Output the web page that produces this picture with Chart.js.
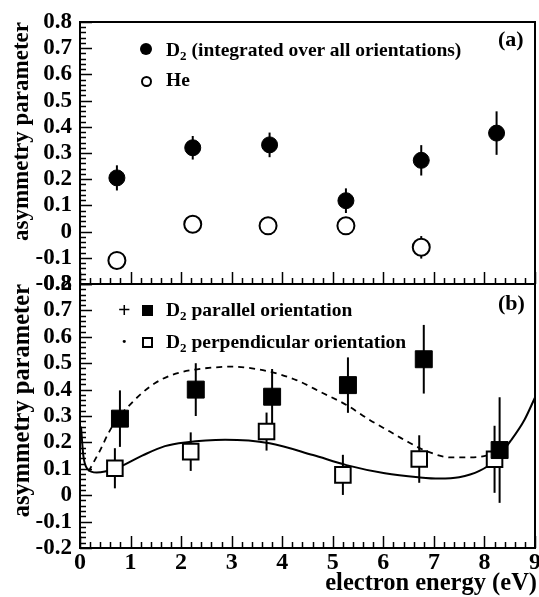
<!DOCTYPE html>
<html>
<head>
<meta charset="utf-8">
<script src="https://cdn.jsdelivr.net/npm/chart.js@4.4.1/dist/chart.umd.min.js"></script>
<style>
  html, body { margin: 0; padding: 0; background: #fff; }
  #wrap { position: relative; width: 539px; height: 597px; overflow: hidden; }
  canvas { position: absolute; left: 0; top: 0; }
  .txt { position: absolute; font-family: "Liberation Serif", "DejaVu Serif", serif; font-weight: bold; color: #000; line-height: 1; white-space: nowrap; }
  .leg { font-size: 19.5px; }
  .leg sub { font-size: 13px; vertical-align: -4px; line-height: 0; }
  .tag { font-size: 22px; }
  .mk { position: absolute; box-sizing: border-box; }
</style>
</head>
<body>
<div id="wrap">
  <canvas id="chartA" width="539" height="597"></canvas>
  <canvas id="chartB" width="539" height="597"></canvas>

  <!-- legend (a) -->
  <div class="mk" style="left:140px;top:43px;width:12px;height:12px;border-radius:50%;background:#000;"></div>
  <div class="txt leg" style="left:166px;top:40.4px;">D<sub>2</sub> (integrated over all orientations)</div>
  <div class="mk" style="left:140.5px;top:76px;width:11px;height:11px;border-radius:50%;border:2px solid #000;background:#fff;"></div>
  <div class="txt leg" style="left:166px;top:70.4px;">He</div>
  <div class="txt tag" style="left:498px;top:28.3px;">(a)</div>

  <!-- legend (b) -->
  <div class="txt" style="left:118px;top:299px;font-size:22px;">+</div>
  <div class="mk" style="left:141.5px;top:304.5px;width:11px;height:11px;background:#000;"></div>
  <div class="txt leg" style="left:166px;top:300.4px;">D<sub>2</sub> parallel orientation</div>
  <div class="txt leg" style="left:121px;top:332px;">&middot;</div>
  <div class="mk" style="left:141.5px;top:336.5px;width:11px;height:11px;border:2px solid #000;background:#fff;"></div>
  <div class="txt leg" style="left:166px;top:332px;">D<sub>2</sub> perpendicular orientation</div>
  <div class="txt tag" style="left:498px;top:292.3px;">(b)</div>

  <div class="txt" style="right:2px;top:570px;font-size:24.5px;">electron energy (eV)</div>
</div>
<script>
// panel (a): D2 averaged over orientations, He reference
const energyD2 = [0.73, 2.23, 3.75, 5.26, 6.75, 8.24];
const asymD2 = [0.205, 0.32, 0.331, 0.118, 0.272, 0.376];
const errD2 = [0.048, 0.045, 0.047, 0.047, 0.058, 0.083];

const energyHe = [0.73, 2.23, 3.72, 5.26, 6.75];
const asymHe = [-0.11, 0.028, 0.022, 0.022, -0.06];
const errHe = [0.02, 0.02, 0.02, 0.02, 0.043];

// panel (b): fixed-in-space orientations
const energyPar = [0.79, 2.29, 3.80, 5.30, 6.80, 8.30];
const asymPar = [0.29, 0.40, 0.373, 0.417, 0.515, 0.171];
const errPar = [0.107, 0.10, 0.105, 0.105, 0.13, 0.2];

const energyPerp = [0.69, 2.19, 3.69, 5.20, 6.71, 8.20];
const asymPerp = [0.102, 0.165, 0.241, 0.077, 0.137, 0.136];
const errPerp = [0.076, 0.073, 0.072, 0.076, 0.09, 0.127];

// theory curves
const perpCurveX = [0.02, 0.066, 0.145, 0.33, 0.69, 1.23, 1.68, 2.08, 2.87, 3.75, 4.61, 5.27, 6.03, 6.69, 7.1, 7.5, 7.9, 8.2, 8.53, 8.79, 9.0];
const perpCurveY = [0.26, 0.15, 0.10, 0.086, 0.10, 0.15, 0.186, 0.20, 0.21, 0.197, 0.152, 0.114, 0.083, 0.068, 0.063, 0.068, 0.092, 0.13, 0.209, 0.285, 0.37];
const parCurveX = [0.17, 0.40, 0.56, 0.72, 0.95, 1.22, 1.48, 1.81, 2.21, 2.67, 3.0, 3.75, 4.28, 4.81, 5.27, 5.73, 6.13, 6.42, 6.88, 7.35, 7.74, 8.07, 8.3];
const parCurveY = [0.09, 0.171, 0.234, 0.285, 0.335, 0.386, 0.424, 0.455, 0.474, 0.484, 0.487, 0.468, 0.436, 0.386, 0.342, 0.285, 0.241, 0.209, 0.165, 0.143, 0.143, 0.152, 0.17];

const yTicksMin = -0.2, yTicksMax = 0.8;
const xTicksMin = 0, xTicksMax = 9;

const FONT = "'Liberation Serif', 'DejaVu Serif', serif";
const pts = (xs, ys) => xs.map((x, i) => ({ x, y: ys[i] }));

// error bars, inward ticks and frame
const frameAndErrors = {
  id: "frameAndErrors",
  beforeDatasetsDraw(chart) {
    const { ctx } = chart;
    const ys = chart.scales.y;
    ctx.save();
    ctx.strokeStyle = "#000";
    ctx.lineWidth = 2;
    chart.data.datasets.forEach((ds, i) => {
      if (!ds.errors) return;
      const meta = chart.getDatasetMeta(i);
      meta.data.forEach((el, j) => {
        const v = ds.data[j].y, e = ds.errors[j];
        ctx.beginPath();
        ctx.moveTo(el.x, ys.getPixelForValue(v + e));
        ctx.lineTo(el.x, ys.getPixelForValue(v - e));
        ctx.stroke();
      });
    });
    ctx.restore();
  },
  afterDraw(chart) {
    const { ctx, chartArea: a } = chart;
    const xs = chart.scales.x, ys = chart.scales.y;
    ctx.save();
    ctx.strokeStyle = "#000";
    ctx.lineWidth = 1.5;
    ctx.beginPath();
    for (let k = 0; k <= 50; k++) {
      const py = Math.round(ys.getPixelForValue(yTicksMin + k * 0.02)) + 0.5;
      const len = k % 5 === 0 ? 12 : 6;
      ctx.moveTo(a.left, py);
      ctx.lineTo(a.left + len, py);
    }
    for (let k = 0; k <= 45; k++) {
      const px = Math.round(xs.getPixelForValue(xTicksMin + k * 0.2)) + 0.5;
      const len = k % 5 === 0 ? 12 : 6;
      ctx.moveTo(px, a.bottom);
      ctx.lineTo(px, a.bottom - len);
    }
    ctx.stroke();
    ctx.lineWidth = 2;
    ctx.strokeRect(a.left, a.top, a.right - a.left, a.bottom - a.top);
    ctx.restore();
  },
};

function yScale(titleSize) {
  return {
    type: "linear",
    min: yTicksMin,
    max: yTicksMax,
    afterFit: (s) => { s.width = 80; s.paddingTop = 0; s.paddingBottom = 0; },
    grid: { display: false, drawTicks: false },
    border: { display: false },
    ticks: {
      stepSize: 0.1,
      autoSkip: false,
      padding: 8,
      color: "#000",
      font: { family: FONT, size: 23, weight: "bold" },
      callback: (v) => String(Math.round(v * 10) / 10),
    },
    title: {
      display: true,
      text: "asymmetry parameter",
      align: "end",
      color: "#000",
      font: { family: FONT, size: titleSize, weight: "bold" },
      padding: { top: 8, bottom: 0 },
    },
  };
}

function baseOptions(pad, showX, titleSize) {
  return {
    responsive: false,
    animation: false,
    devicePixelRatio: 1,
    layout: { padding: pad, autoPadding: false },
    clip: false,
    plugins: { legend: { display: false }, tooltip: { enabled: false } },
    scales: {
      x: {
        type: "linear",
        min: xTicksMin,
        max: xTicksMax,
        afterFit: (s) => {
          s.height = showX ? 49 : 0;
          s.paddingLeft = 0;
          s.paddingRight = 0;
        },
        grid: { display: false, drawTicks: false },
        border: { display: false },
        ticks: {
          display: showX,
          stepSize: 1,
          autoSkip: false,
          padding: 0,
          color: "#000",
          font: { family: FONT, size: 24, weight: "bold" },
        },
      },
      y: yScale(titleSize),
    },
  };
}

new Chart(document.getElementById("chartA"), {
  type: "scatter",
  data: {
    datasets: [
      {
        label: "D2",
        data: pts(energyD2, asymD2),
        errors: errD2,
        pointStyle: "circle",
        pointRadius: 8,
        backgroundColor: "#000",
        borderColor: "#000",
        borderWidth: 1,
        order: 0,
      },
      {
        label: "He",
        data: pts(energyHe, asymHe),
        errors: errHe,
        pointStyle: "circle",
        pointRadius: 8.5,
        backgroundColor: "#fff",
        borderColor: "#000",
        borderWidth: 2,
        order: 1,
      },
    ],
  },
  options: baseOptions({ left: 0, right: 4, top: 22, bottom: 597 - 284 }, false, 23),
  plugins: [frameAndErrors],
});

new Chart(document.getElementById("chartB"), {
  type: "scatter",
  data: {
    datasets: [
      {
        label: "D2 parallel",
        data: pts(energyPar, asymPar),
        errors: errPar,
        pointStyle: "rect",
        pointRadius: 12,
        backgroundColor: "#000",
        borderColor: "#000",
        borderWidth: 1,
        order: 0,
      },
      {
        label: "D2 perpendicular",
        data: pts(energyPerp, asymPerp),
        errors: errPerp,
        pointStyle: "rect",
        pointRadius: 11,
        backgroundColor: "#fff",
        borderColor: "#000",
        borderWidth: 2,
        order: 1,
      },
      {
        label: "perp theory",
        type: "line",
        data: pts(perpCurveX, perpCurveY),
        borderColor: "#000",
        borderWidth: 2,
        pointRadius: 0,
        cubicInterpolationMode: "monotone",
        fill: false,
        order: 2,
      },
      {
        label: "par theory",
        type: "line",
        data: pts(parCurveX, parCurveY),
        borderColor: "#000",
        borderWidth: 1.8,
        borderDash: [6, 5],
        pointRadius: 0,
        cubicInterpolationMode: "monotone",
        fill: false,
        order: 2,
      },
    ],
  },
  options: baseOptions({ left: 0, right: 4, top: 284, bottom: 0 }, true, 24.5),
  plugins: [frameAndErrors],
});
</script>
</body>
</html>
